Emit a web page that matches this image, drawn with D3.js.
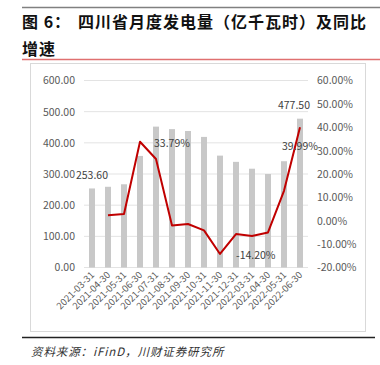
<!DOCTYPE html>
<html>
<head>
<meta charset="utf-8">
<script src="https://cdn.jsdelivr.net/npm/d3@7"></script>
<style>
  body { margin: 0; background: #fff; }
  svg { display: block; }
  text { font-family: "Noto Sans CJK SC", "Noto Sans", sans-serif; }
</style>
</head>
<body>
<div id="chart"></div>
<script>
const dates = ["2021-03-31", "2021-04-30", "2021-05-31", "2021-06-30", "2021-07-31",
  "2021-08-31", "2021-09-30", "2021-10-31", "2021-11-30", "2021-12-31",
  "2022-03-31", "2022-04-30", "2022-05-31", "2022-06-30"];
// monthly generation, 100 million kWh
const output = [253.6, 259, 267, 358, 452, 444, 438, 419, 359, 339, 317, 300, 341, 477.5];
// YoY growth, %
const growth = [null, 2.4, 2.9, 33.79, 26.4, -2.0, -1.4, -4.1, -14.2, -5.7, -6.5, -5.0, 12.8, 39.99];
const leftTicks = [0, 100, 200, 300, 400, 500, 600];
const rightTicks = [-20, -10, 0, 10, 20, 30, 40, 50, 60];

const width = 380, height = 365;
const svg = d3.select("#chart").append("svg")
  .attr("width", width)
  .attr("height", height);

// header rules and title
svg.append("line").attr("x1", 22).attr("x2", 380).attr("y1", 7.5).attr("y2", 7.5)
  .attr("stroke", "#808080").attr("stroke-width", 1.5);
const title = svg.append("text")
  .attr("x", 22).attr("y", 28)
  .attr("font-size", 16).attr("font-weight", "bold").attr("fill", "#111")
  .style("letter-spacing", "1px");
title.append("tspan").text("图 6：");
title.append("tspan").attr("x", 78).text("四川省月度发电量（亿千瓦时）及同比");
svg.append("text")
  .attr("x", 22).attr("y", 55)
  .attr("font-size", 16).attr("font-weight", "bold").attr("fill", "#111")
  .style("letter-spacing", "1px")
  .text("增速");
svg.append("line").attr("x1", 22).attr("x2", 380).attr("y1", 59.5).attr("y2", 59.5)
  .attr("stroke", "#e07070").attr("stroke-width", 1.5);

// chart frame
svg.append("rect")
  .attr("x", 30.5).attr("y", 63.5).attr("width", 335).attr("height", 268)
  .attr("fill", "none").attr("stroke", "#d9d9d9");

const x = d3.scaleBand()
  .domain(dates)
  .range([84, 308])
  .paddingInner(0.625)
  .paddingOuter(0.3125);
const y = d3.scaleLinear().domain([0, 600]).range([267.5, 80.5]);
const y2 = d3.scaleLinear().domain([-20, 60]).range([267.5, 80.5]);

// gridlines
svg.append("g")
  .selectAll("line")
  .data(leftTicks)
  .join("line")
  .attr("x1", 84).attr("x2", 308)
  .attr("y1", d => y(d)).attr("y2", d => y(d))
  .attr("stroke", "#e3e3e3").attr("stroke-width", 1);

// left axis
const leftAxis = svg.append("g")
  .attr("transform", "translate(80,0)")
  .call(d3.axisLeft(y).tickValues(leftTicks).tickSize(0).tickPadding(5)
    .tickFormat(d3.format(".2f")));
leftAxis.select(".domain").remove();
leftAxis.selectAll("text").attr("font-size", 10.5).attr("fill", "#595959")
  .style("font-family", "'Noto Sans CJK SC', sans-serif");

// right axis
const rightAxis = svg.append("g")
  .attr("transform", "translate(312,0)")
  .call(d3.axisRight(y2).tickValues(rightTicks).tickSize(0).tickPadding(5)
    .tickFormat(d => d.toFixed(2) + "%"));
rightAxis.select(".domain").remove();
rightAxis.selectAll("text").attr("font-size", 10.5).attr("fill", "#595959")
  .style("font-family", "'Noto Sans CJK SC', sans-serif");

// bars
svg.append("g")
  .selectAll("rect")
  .data(dates)
  .join("rect")
  .attr("x", d => x(d))
  .attr("width", x.bandwidth())
  .attr("y", (d, i) => y(output[i]))
  .attr("height", (d, i) => y(0) - y(output[i]))
  .attr("fill", "#c8c8c8");

// growth line
const line = d3.line()
  .defined(d => d.v !== null)
  .x(d => x(d.date) + x.bandwidth() / 2)
  .y(d => y2(d.v));
svg.append("path")
  .datum(dates.map((d, i) => ({ date: d, v: growth[i] })))
  .attr("d", line)
  .attr("fill", "none")
  .attr("stroke", "#c00000")
  .attr("stroke-width", 2)
  .attr("stroke-linejoin", "round");

// x axis labels
svg.append("g")
  .selectAll("text")
  .data(dates)
  .join("text")
  .attr("transform", d => `translate(${x(d) + x.bandwidth() / 2 + 3},${y(0) + 8}) rotate(-45)`)
  .attr("text-anchor", "end")
  .attr("font-size", 9.5)
  .attr("fill", "#595959")
  .text(d => d);

// data labels
const cx = i => x(dates[i]) + x.bandwidth() / 2;
const labelStyle = sel => sel.attr("font-size", 10.5).attr("fill", "#404040");
svg.append("text").call(labelStyle)
  .attr("x", cx(0)).attr("y", y(output[0]) - 9).attr("text-anchor", "middle")
  .text(output[0].toFixed(2));
svg.append("text").call(labelStyle)
  .attr("x", cx(13) - 6).attr("y", y(output[13]) - 10).attr("text-anchor", "middle")
  .text(output[13].toFixed(2));
svg.append("text").call(labelStyle)
  .attr("x", cx(3) + 14).attr("y", y2(growth[3]) + 5)
  .text(growth[3].toFixed(2) + "%");
svg.append("text").call(labelStyle)
  .attr("x", cx(8) + 16).attr("y", y2(growth[8]) + 5)
  .text(growth[8].toFixed(2) + "%");
svg.append("text").call(labelStyle)
  .attr("x", cx(13)).attr("y", y2(growth[13]) + 23).attr("text-anchor", "middle")
  .text(growth[13].toFixed(2) + "%");

// footer
svg.append("line").attr("x1", 22).attr("x2", 375).attr("y1", 337.5).attr("y2", 337.5)
  .attr("stroke", "#222").attr("stroke-width", 1.5);
svg.append("text")
  .attr("x", 31).attr("y", 356)
  .attr("font-size", 11.5).attr("font-style", "italic").attr("fill", "#333")
  .style("letter-spacing", "0.9px")
  .text("资料来源：iFinD，川财证券研究所");
</script>
</body>
</html>
